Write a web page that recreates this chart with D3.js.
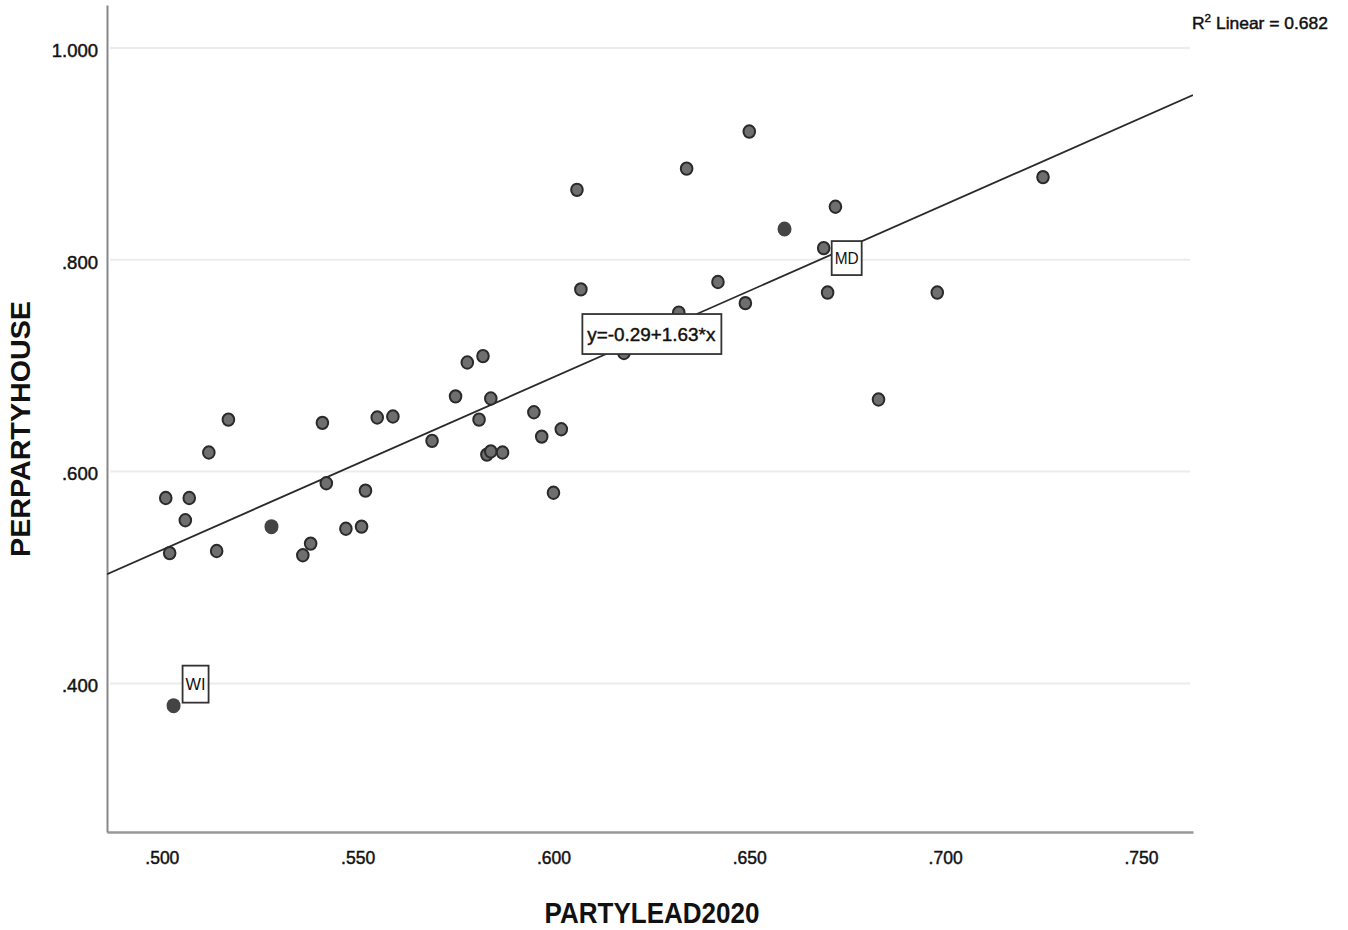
<!DOCTYPE html>
<html>
<head>
<meta charset="utf-8">
<script src="https://cdn.jsdelivr.net/npm/d3@7"></script>
<style>
  body { margin: 0; background: #fff; }
  text { font-family: "Liberation Sans", Arial, sans-serif; fill: #111; }
  .inked { stroke: #111; stroke-width: 0.45px; }
</style>
</head>
<body>
<svg id="chart" width="1348" height="930"></svg>
<script>
// PARTYLEAD2020 (x) and PERPARTYHOUSE (y), one entry per state
const partyLead = [0.501, 0.507, 0.506, 0.502, 0.503, 0.512, 0.514, 0.517, 0.528, 0.536,
                   0.538, 0.541, 0.542, 0.547, 0.551, 0.552, 0.555, 0.559, 0.569, 0.575,
                   0.578, 0.582, 0.581, 0.584, 0.583, 0.584, 0.587, 0.595, 0.597, 0.602,
                   0.600, 0.606, 0.607, 0.618, 0.632, 0.634, 0.642, 0.649, 0.650, 0.659,
                   0.669, 0.670, 0.672, 0.683, 0.698, 0.725];
const perPartyHouse = [0.575, 0.575, 0.554, 0.523, 0.379, 0.618, 0.525, 0.649, 0.548, 0.521,
                       0.532, 0.646, 0.589, 0.546, 0.548, 0.582, 0.651, 0.652, 0.629, 0.671,
                       0.703, 0.709, 0.649, 0.669, 0.616, 0.619, 0.618, 0.656, 0.633, 0.640,
                       0.580, 0.866, 0.772, 0.712, 0.750, 0.886, 0.779, 0.759, 0.921, 0.829,
                       0.811, 0.769, 0.850, 0.668, 0.769, 0.878];
// point labels shown on the chart and points drawn as solid (selected) markers
const pointLabels = { 4: "WI", 40: "MD" };
const solidPoints = [4, 8, 39];

const xTicks = [0.50, 0.55, 0.60, 0.65, 0.70, 0.75];
const yTicks = [0.4, 0.6, 0.8, 1.0];
const equationText = "y=-0.29+1.63*x";
const r2Text = "0.682";

const svg = d3.select('#chart');
const plotLeft = 107, plotRight = 1193, plotTop = 5, plotBottom = 832;

const x = d3.scaleLinear().domain([0.486, 0.7633]).range([plotLeft, plotRight]);
const y = d3.scaleLinear().domain([0.2597, 1.0405]).range([plotBottom, plotTop]);

const points = partyLead.map((v, i) => ({ x: v, y: perPartyHouse[i], i: i }));

// grid lines
svg.append('g')
    .selectAll('line')
    .data(yTicks)
    .enter().append('line')
    .attr('x1', plotLeft + 3).attr('x2', plotRight - 3)
    .attr('y1', d => y(d)).attr('y2', d => y(d))
    .attr('stroke', '#ececec')
    .attr('stroke-width', 2);

// axes
const xAxis = svg.append('g')
    .attr('transform', `translate(0,${plotBottom})`)
    .call(d3.axisBottom(x).tickValues(xTicks).tickSize(0).tickPadding(20)
        .tickFormat(d => d3.format('.3f')(d).replace(/^0/, '')));
xAxis.select('.domain').attr('stroke', '#999').attr('stroke-width', 2.5);
xAxis.selectAll('text').attr('font-size', 17.5).attr('fill', '#111').attr('class', 'inked');

const yAxis = svg.append('g')
    .attr('transform', `translate(${plotLeft},0)`)
    .call(d3.axisLeft(y).tickValues(yTicks).tickSize(0).tickPadding(9)
        .tickFormat(d => d3.format('.3f')(d).replace(/^0/, '')));
yAxis.select('.domain').attr('stroke', '#888').attr('stroke-width', 2);
yAxis.selectAll('text').attr('font-size', 18.5).attr('fill', '#111').attr('dy', '0.45em')
    .attr('class', 'inked');

// axis titles
svg.append('text')
    .attr('x', 652).attr('y', 923)
    .attr('text-anchor', 'middle')
    .attr('font-size', 29).attr('font-weight', 'bold')
    .attr('textLength', 215).attr('lengthAdjust', 'spacingAndGlyphs')
    .text('PARTYLEAD2020');

svg.append('text')
    .attr('transform', 'translate(30,429) rotate(-90)')
    .attr('text-anchor', 'middle')
    .attr('font-size', 27).attr('font-weight', 'bold')
    .attr('textLength', 256).attr('lengthAdjust', 'spacingAndGlyphs')
    .text('PERPARTYHOUSE');

// least squares fit line
const mx = d3.mean(points, d => d.x), my = d3.mean(points, d => d.y);
const slope = d3.sum(points, d => (d.x - mx) * (d.y - my)) / d3.sum(points, d => (d.x - mx) ** 2);
const intercept = my - slope * mx;
const fit = xv => intercept + slope * xv;

svg.append('defs').append('clipPath').attr('id', 'plot-clip')
    .append('rect').attr('x', plotLeft).attr('y', plotTop)
    .attr('width', plotRight - plotLeft).attr('height', plotBottom - plotTop);

svg.append('line')
    .attr('clip-path', 'url(#plot-clip)')
    .attr('x1', x(x.domain()[0])).attr('y1', y(fit(x.domain()[0])))
    .attr('x2', x(x.domain()[1])).attr('y2', y(fit(x.domain()[1])))
    .attr('stroke', '#2a2a2a')
    .attr('stroke-width', 1.8);

// points
svg.append('g')
    .selectAll('ellipse')
    .data(points)
    .enter().append('ellipse')
    .attr('cx', d => x(d.x))
    .attr('cy', d => y(d.y))
    .attr('rx', d => solidPoints.includes(d.i) ? 7 : 5.8)
    .attr('ry', d => solidPoints.includes(d.i) ? 7.5 : 6.2)
    .attr('fill', d => solidPoints.includes(d.i) ? '#444' : '#6f6f6f')
    .attr('stroke', d => solidPoints.includes(d.i) ? 'none' : '#2a2a2a')
    .attr('stroke-width', 2);

// point labels (box to the upper right of the point)
const labelOffsets = { WI: [9, -40], MD: [8, -7] };
Object.entries(pointLabels).forEach(([idx, name]) => {
    const p = points[+idx];
    const [dx, dy] = labelOffsets[name];
    const g = svg.append('g').attr('transform', `translate(${x(p.x) + dx},${y(p.y) + dy})`);
    const w = name === 'WI' ? 26 : 30, h = name === 'WI' ? 37 : 34;
    g.append('rect').attr('width', w).attr('height', h)
        .attr('fill', '#fff').attr('stroke', '#333').attr('stroke-width', 1.8);
    g.append('text').attr('x', w / 2).attr('y', h / 2 + 6)
        .attr('text-anchor', 'middle').attr('font-size', 16)
        .attr('textLength', w - 6).attr('lengthAdjust', 'spacingAndGlyphs')
        .text(name);
});

// equation label centred on the fit line
const eqX = 0.625;
const eqG = svg.append('g').attr('transform', `translate(${x(eqX)},${y(fit(eqX))})`);
eqG.append('rect').attr('x', -69).attr('y', -20).attr('width', 139).attr('height', 40)
    .attr('fill', '#fff').attr('stroke', '#333').attr('stroke-width', 1.8);
eqG.append('text').attr('x', 0).attr('y', 7)
    .attr('text-anchor', 'middle').attr('font-size', 19).attr('class', 'inked')
    .attr('textLength', 128).attr('lengthAdjust', 'spacingAndGlyphs')
    .text(equationText);

// R squared note
const r2 = svg.append('text').attr('x', 1192).attr('y', 29).attr('font-size', 16.5)
    .attr('class', 'inked').attr('textLength', 136).attr('lengthAdjust', 'spacingAndGlyphs');
r2.append('tspan').text('R');
r2.append('tspan').attr('dy', -7).attr('font-size', 11).text('2');
r2.append('tspan').attr('dy', 7).text(' Linear = ' + r2Text);
</script>
</body>
</html>
